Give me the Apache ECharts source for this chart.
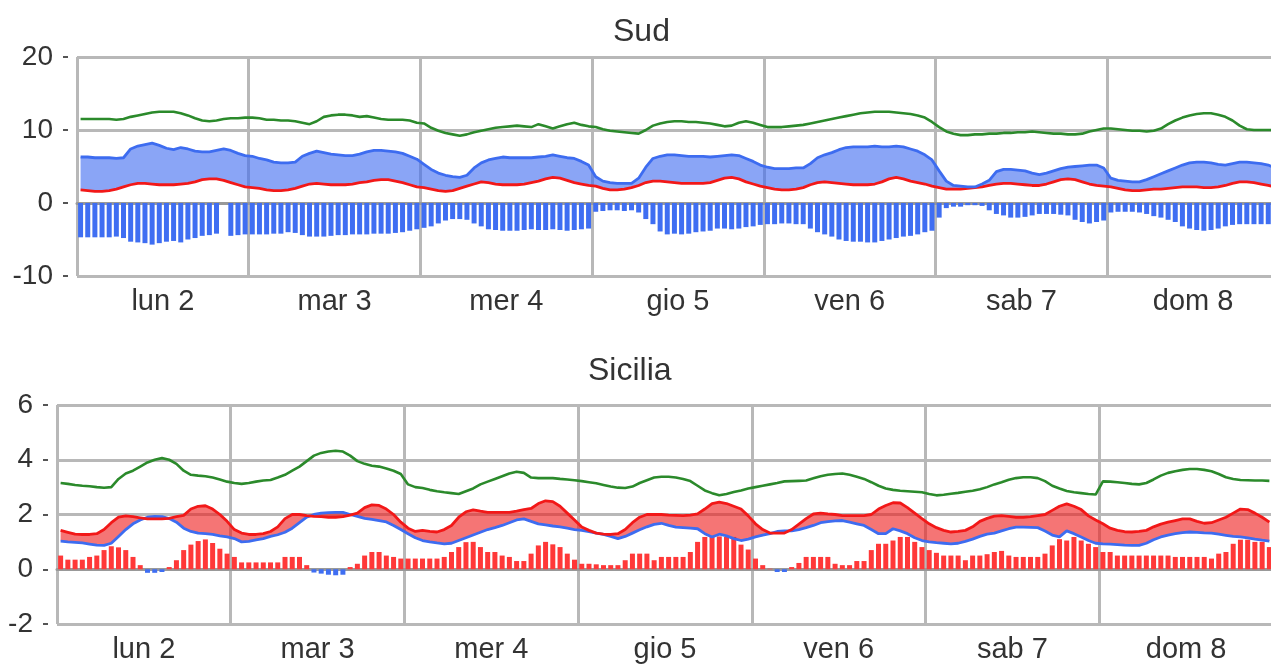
<!DOCTYPE html>
<html>
<head>
<meta charset="utf-8">
<script src="https://cdn.jsdelivr.net/npm/echarts@6/dist/echarts.min.js"></script>
<style>
html,body{margin:0;padding:0;background:#fff;}
#chart{width:1271px;height:666px;}
</style>
</head>
<body>
<div id="chart"></div>
<script>
// ---- Categories ----
const days = ['lun 2', 'mar 3', 'mer 4', 'gio 5', 'ven 6', 'sab 7', 'dom 8'];
const sudTicks = [-10, 0, 10, 20];
const sicTicks = [-2, 0, 2, 4, 6];
const titles = ['Sud', 'Sicilia'];

// ---- Sud (hourly, 7 days x 24) ----
const sudGreen = [
11.5,11.5,11.5,11.5,11.5,11.4,11.5,11.8,12.0,12.2,12.4,12.5,12.5,12.5,12.3,12.0,11.6,11.3,11.2,11.3,11.5,11.6,11.6,11.7,
11.7,11.6,11.4,11.4,11.3,11.3,11.2,11.0,10.8,11.2,11.8,12.0,12.1,12.1,12.0,11.8,11.9,11.7,11.5,11.4,11.4,11.4,11.3,11.0,
10.9,10.3,9.9,9.6,9.4,9.2,9.4,9.7,9.9,10.1,10.3,10.4,10.5,10.6,10.5,10.4,10.8,10.5,10.2,10.5,10.8,11.0,10.7,10.5,
10.4,10.1,9.9,9.8,9.7,9.6,9.5,10.0,10.6,10.9,11.1,11.2,11.2,11.1,11.1,11.0,10.9,10.7,10.5,10.6,11.0,11.2,11.0,10.7,
10.4,10.4,10.4,10.5,10.6,10.7,10.9,11.1,11.3,11.5,11.7,11.9,12.1,12.3,12.4,12.5,12.5,12.5,12.4,12.3,12.2,12.0,11.7,11.1,
10.4,9.8,9.5,9.3,9.3,9.4,9.4,9.5,9.5,9.6,9.6,9.7,9.7,9.8,9.7,9.6,9.5,9.5,9.4,9.4,9.5,9.8,10.0,10.2,
10.2,10.1,10.0,9.9,9.9,9.8,9.9,10.2,10.8,11.3,11.7,12.0,12.2,12.3,12.3,12.1,11.8,11.3,10.6,10.1,10.0,10.0,10.0,10.0
];
const sudBlue = [
6.3,6.3,6.2,6.2,6.2,6.1,6.2,7.4,7.8,8.0,8.2,7.9,7.5,7.3,7.6,7.4,7.1,7.0,7.0,7.2,7.4,7.2,6.8,6.5,
6.4,6.1,5.9,5.6,5.5,5.5,5.6,6.4,6.8,7.1,6.9,6.7,6.6,6.5,6.5,6.7,7.0,7.2,7.2,7.1,7.0,6.8,6.4,6.0,
5.3,4.6,4.1,3.8,3.6,3.5,3.8,4.8,5.5,5.9,6.1,6.3,6.2,6.2,6.2,6.2,6.3,6.4,6.6,6.4,6.2,6.1,5.7,5.2,
3.6,3.0,2.8,2.7,2.7,2.7,3.4,4.9,6.1,6.4,6.6,6.6,6.5,6.4,6.4,6.4,6.3,6.4,6.5,6.6,6.5,6.1,5.7,5.2,
4.9,4.7,4.7,4.7,4.8,4.8,5.4,6.2,6.6,6.9,7.3,7.6,7.7,7.7,7.7,7.8,7.7,7.7,7.8,7.7,7.4,7.1,6.6,5.9,
4.4,3.0,2.4,2.3,2.2,2.2,2.6,3.1,4.3,4.6,4.6,4.5,4.4,4.1,3.9,4.1,4.4,4.7,4.9,5.0,5.1,5.2,5.2,4.8,
3.4,3.1,3.0,2.9,2.9,3.2,3.6,4.0,4.4,4.8,5.2,5.5,5.6,5.6,5.5,5.3,5.2,5.4,5.6,5.6,5.5,5.4,5.2,4.8
];
const sudRed = [
1.8,1.7,1.6,1.6,1.7,1.9,2.2,2.5,2.7,2.7,2.6,2.5,2.5,2.5,2.6,2.7,2.9,3.2,3.3,3.3,3.1,2.8,2.5,2.2,
2.1,2.0,1.8,1.7,1.7,1.8,2.0,2.3,2.6,2.7,2.6,2.5,2.5,2.5,2.6,2.8,2.9,3.1,3.2,3.2,3.0,2.8,2.5,2.2,
2.1,1.9,1.7,1.6,1.7,2.0,2.3,2.6,2.9,2.8,2.6,2.5,2.5,2.5,2.6,2.8,3.0,3.3,3.5,3.4,3.1,2.8,2.6,2.4,
2.3,2.0,1.8,1.8,1.9,2.1,2.4,2.8,3.0,3.0,2.9,2.8,2.7,2.7,2.7,2.7,2.8,3.1,3.4,3.5,3.3,2.9,2.6,2.3,
2.1,1.9,1.8,1.8,1.9,2.1,2.5,2.8,2.9,2.8,2.7,2.6,2.5,2.5,2.5,2.6,2.9,3.3,3.5,3.3,3.0,2.8,2.6,2.3,
2.1,1.9,1.9,1.9,2.0,2.1,2.2,2.4,2.6,2.7,2.7,2.6,2.5,2.4,2.4,2.6,2.9,3.2,3.3,3.2,2.9,2.6,2.4,2.3,
2.2,2.0,1.8,1.7,1.7,1.8,1.9,1.9,2.0,2.1,2.2,2.2,2.2,2.1,2.1,2.2,2.4,2.7,2.9,2.9,2.8,2.6,2.4,2.2
];
const sudBars = [
-4.7,-4.7,-4.7,-4.7,-4.7,-4.6,-4.8,-5.3,-5.4,-5.5,-5.7,-5.5,-5.3,-5.2,-5.4,-5.0,-4.8,-4.5,-4.4,-4.2,null,-4.5,-4.4,-4.3,
-4.3,-4.3,-4.3,-4.2,-4.2,-4.0,-4.1,-4.4,-4.6,-4.6,-4.6,-4.5,-4.4,-4.4,-4.3,-4.3,-4.3,-4.2,-4.2,-4.2,-4.1,-4.0,-3.8,-3.6,
-3.4,-3.2,-2.8,-2.4,-2.2,-2.2,-2.3,-2.8,-3.2,-3.6,-3.7,-3.8,-3.8,-3.8,-3.7,-3.6,-3.7,-3.7,-3.6,-3.7,-3.8,-3.7,-3.6,-3.5,
-1.2,-1.1,-1.0,-1.0,-1.1,-1.0,-1.3,-2.2,-2.9,-3.9,-4.3,-4.2,-4.3,-4.2,-4.0,-3.9,-3.8,-3.5,-3.5,-3.6,-3.5,-3.3,-3.2,-3.0,
-2.9,-2.9,-2.8,-2.8,-2.9,-2.9,-3.5,-4.0,-4.3,-4.6,-5.0,-5.2,-5.3,-5.3,-5.4,-5.4,-5.2,-5.0,-4.8,-4.6,-4.5,-4.3,-4.0,-3.8,
-2.0,-0.7,-0.5,-0.5,-0.3,-0.3,-0.4,-1.0,-1.5,-1.7,-2.0,-2.0,-1.9,-1.7,-1.5,-1.5,-1.5,-1.6,-1.7,-2.3,-2.6,-2.8,-2.6,-2.4,
-1.3,-1.2,-1.2,-1.2,-1.3,-1.5,-1.8,-2.0,-2.3,-2.6,-3.2,-3.5,-3.7,-3.8,-3.7,-3.5,-3.2,-3.0,-2.9,-2.9,-2.9,-2.9,-2.9,-2.8
];

// ---- Sicilia (hourly, 7 days x 24) ----
const sicGreen = [
3.15,3.12,3.08,3.05,3.03,3.0,2.98,3.0,3.3,3.5,3.6,3.75,3.9,4.0,4.06,4.0,3.85,3.6,3.45,3.42,3.4,3.35,3.28,3.2,
3.15,3.12,3.15,3.2,3.24,3.26,3.35,3.45,3.6,3.75,3.95,4.15,4.25,4.3,4.33,4.3,4.15,3.95,3.85,3.78,3.75,3.68,3.6,3.48,
3.1,3.0,2.97,2.9,2.85,2.81,2.78,2.75,2.85,2.95,3.1,3.2,3.3,3.4,3.5,3.56,3.52,3.35,3.33,3.33,3.33,3.3,3.28,3.25,
3.22,3.18,3.14,3.08,3.02,2.98,2.97,3.02,3.15,3.25,3.35,3.38,3.38,3.35,3.3,3.22,3.05,2.88,2.78,2.7,2.75,2.82,2.88,2.95,
3.0,3.05,3.1,3.15,3.21,3.22,3.23,3.24,3.32,3.4,3.45,3.48,3.5,3.45,3.38,3.3,3.18,3.05,2.95,2.9,2.87,2.85,2.83,2.81,
2.75,2.7,2.72,2.76,2.79,2.83,2.87,2.92,3.0,3.1,3.18,3.27,3.33,3.36,3.36,3.33,3.22,3.05,2.95,2.86,2.81,2.78,2.75,2.73,
3.21,3.2,3.18,3.15,3.12,3.1,3.15,3.28,3.42,3.52,3.58,3.63,3.66,3.66,3.63,3.58,3.48,3.36,3.3,3.26,3.25,3.24,3.24,3.23
];
const sicBlue = [
1.03,1.0,0.98,0.96,0.92,0.88,0.87,0.95,1.2,1.45,1.66,1.8,1.9,1.93,1.92,1.85,1.72,1.5,1.38,1.32,1.3,1.27,1.22,1.18,
1.12,1.0,1.02,1.07,1.12,1.2,1.26,1.35,1.5,1.7,1.9,2.0,2.05,2.07,2.08,2.08,2.0,1.93,1.86,1.82,1.78,1.73,1.6,1.45,
1.3,1.15,1.05,1.0,0.96,0.93,0.95,1.05,1.15,1.25,1.35,1.45,1.52,1.6,1.7,1.8,1.84,1.75,1.66,1.62,1.58,1.55,1.5,1.45,
1.42,1.37,1.32,1.27,1.2,1.12,1.2,1.32,1.44,1.55,1.64,1.68,1.6,1.54,1.52,1.5,1.48,1.3,1.18,1.28,1.22,1.12,1.05,1.1,
1.18,1.25,1.3,1.38,1.4,1.4,1.45,1.52,1.6,1.7,1.74,1.77,1.78,1.72,1.66,1.6,1.45,1.3,1.3,1.48,1.4,1.3,1.15,1.05,
1.0,0.97,0.95,0.93,0.95,1.02,1.1,1.2,1.28,1.32,1.4,1.48,1.54,1.54,1.53,1.52,1.4,1.25,1.18,1.4,1.3,1.18,1.05,0.95,
0.93,0.92,0.9,0.88,0.87,0.87,0.95,1.08,1.18,1.25,1.3,1.34,1.36,1.35,1.33,1.32,1.28,1.24,1.2,1.18,1.15,1.1,1.06,1.03
];
const sicRed = [
1.42,1.35,1.28,1.27,1.27,1.3,1.45,1.7,1.9,1.95,1.92,1.88,1.84,1.84,1.84,1.86,1.92,1.97,2.2,2.3,2.32,2.2,2.0,1.75,
1.45,1.32,1.27,1.27,1.3,1.38,1.55,1.85,2.0,2.0,1.96,1.93,1.92,1.9,1.9,1.92,1.98,2.05,2.25,2.35,2.33,2.2,2.0,1.72,
1.5,1.38,1.42,1.38,1.36,1.45,1.6,1.9,2.1,2.17,2.12,2.08,2.08,2.08,2.08,2.12,2.18,2.22,2.4,2.5,2.47,2.3,2.05,1.8,
1.54,1.42,1.32,1.28,1.27,1.3,1.45,1.7,1.9,2.0,2.0,2.0,1.98,1.97,1.96,1.98,2.02,2.2,2.4,2.45,2.4,2.3,2.2,1.95,
1.66,1.45,1.32,1.32,1.32,1.45,1.65,1.85,2.02,2.05,2.02,2.0,1.96,1.96,1.96,1.96,2.0,2.2,2.33,2.43,2.42,2.25,2.05,1.85,
1.66,1.52,1.42,1.36,1.38,1.42,1.55,1.75,1.86,1.94,1.96,1.93,1.9,1.9,1.92,1.96,2.0,2.15,2.3,2.39,2.3,2.18,1.95,1.8,
1.66,1.5,1.42,1.37,1.36,1.38,1.42,1.55,1.65,1.72,1.78,1.84,1.84,1.75,1.68,1.7,1.8,1.9,2.05,2.2,2.18,2.05,1.9,1.72
];
const sicBars = [
0.5,0.35,0.35,0.35,0.45,0.5,0.7,0.84,0.8,0.7,0.45,0.15,-0.13,-0.13,-0.1,0.08,0.33,0.7,0.9,1.03,1.09,0.96,0.75,0.57,
0.45,0.25,0.25,0.25,0.25,0.25,0.25,0.45,0.45,0.45,0.15,-0.12,-0.16,-0.2,-0.22,-0.2,0.08,0.2,0.5,0.63,0.63,0.5,0.45,0.39,
0.39,0.39,0.39,0.39,0.39,0.45,0.63,0.81,0.99,1.0,0.81,0.63,0.63,0.5,0.45,0.3,0.3,0.57,0.87,1.0,0.91,0.81,0.57,0.35,
0.2,0.2,0.18,0.15,0.15,0.15,0.33,0.57,0.57,0.57,0.33,0.45,0.45,0.45,0.45,0.63,1.0,1.18,1.18,1.2,1.18,1.18,0.9,0.72,
0.39,0.15,0.02,-0.1,-0.1,0.08,0.23,0.45,0.45,0.45,0.45,0.2,0.15,0.15,0.3,0.3,0.7,0.93,0.93,1.05,1.18,1.18,1.0,0.81,
0.7,0.6,0.5,0.5,0.5,0.33,0.5,0.5,0.55,0.63,0.67,0.5,0.45,0.45,0.45,0.45,0.57,0.87,1.1,1.05,1.18,1.05,0.93,0.81,
0.63,0.63,0.5,0.5,0.5,0.5,0.5,0.5,0.5,0.5,0.45,0.45,0.45,0.45,0.45,0.39,0.57,0.63,0.93,1.08,1.08,1.0,1.0,0.81
];

// ---- Styles ----
const FONT = '"Liberation Sans", Arial, sans-serif';
const GREEN = '#2b8a2b';
const BLUE = '#3d6cf0';
const RED = '#f21818';
const BAR_RED = '#ff3838';
const BAR_BLUE = '#3f6ef2';
const BLUE_FILL = 'rgba(60,105,240,0.6)';
const RED_FILL = 'rgba(238,25,25,0.6)';
const GRID_C = '#b8b8b8';
const TEXT_C = '#333';

// hourly category labels built from the day names
const hours = [];
days.forEach(d => { for (let h = 0; h < 24; h++) hours.push(d + ' ' + h + ':00'); });

function diff(a, b) { return a.map((v, i) => +(v - b[i]).toFixed(3)); }

function panel(gi, top, left, right, ticks) {
  const min = ticks[0], max = ticks[ticks.length - 1], interval = ticks[1] - ticks[0];
  return {
    grid: { left: left, right: right, top: top, height: 219, outerBoundsMode: 'none', containLabel: false },
    xAxes: [
      { type: 'category', gridIndex: gi, data: days, boundaryGap: true, position: 'bottom',
        axisLine: { show: true, lineStyle: { color: '#999', width: 3 } },
        axisTick: { show: false },
        axisLabel: { fontSize: 29, color: TEXT_C, fontFamily: FONT, margin: 11, interval: 0 },
        splitLine: { show: true, showMinLine: true, showMaxLine: true, interval: 0, lineStyle: { color: GRID_C, width: 3 } } },
      { type: 'category', gridIndex: gi, data: hours, boundaryGap: true, position: 'top',
        axisLine: { show: false }, axisTick: { show: false }, axisLabel: { show: false },
        splitLine: { show: false } }
    ],
    yAxes: [
      { type: 'value', gridIndex: gi, min: min, max: max, interval: interval, position: 'left',
        axisLine: { show: false }, axisTick: { show: false },
        axisLabel: { fontSize: 28, color: TEXT_C, fontFamily: FONT, margin: 24 },
        splitLine: { show: true, showMinLine: true, showMaxLine: true, lineStyle: { color: GRID_C, width: 3 } } },
      { type: 'value', gridIndex: gi, min: min, max: max, interval: interval, position: 'left', offset: 9,
        axisLine: { show: false },
        axisTick: { show: true, length: 5, lineStyle: { color: '#555', width: 2 } },
        axisLabel: { show: false }, splitLine: { show: false } }
    ]
  };
}

const p0 = panel(0, 57, 77, -8, sudTicks);
const p1 = panel(1, 405, 57, -2, sicTicks);

function lineS(xi, yi, data, color, width, z) {
  return { type: 'line', xAxisIndex: xi, yAxisIndex: yi, data: data, showSymbol: false, symbol: 'none',
    lineStyle: { color: color, width: width }, itemStyle: { color: color }, z: z, silent: true, animation: false };
}
function bandBase(xi, yi, data, stack) {
  return { type: 'line', xAxisIndex: xi, yAxisIndex: yi, data: data, stack: stack, stackStrategy: 'all',
    showSymbol: false, symbol: 'none', lineStyle: { width: 0, opacity: 0 }, z: 3, animation: false, silent: true };
}
function bandFill(xi, yi, data, stack, fill) {
  return { type: 'line', xAxisIndex: xi, yAxisIndex: yi, data: data, stack: stack, stackStrategy: 'all',
    showSymbol: false, symbol: 'none', lineStyle: { width: 0, opacity: 0 },
    areaStyle: { color: fill, opacity: 1 }, z: 3, animation: false, silent: true };
}

const series = [
  // Sud
  { type: 'bar', xAxisIndex: 1, yAxisIndex: 0, data: sudBars, barWidth: 5,
    itemStyle: { color: BAR_BLUE }, z: 2, animation: false, silent: true },
  bandBase(1, 0, sudRed, 'sudBand'),
  bandFill(1, 0, diff(sudBlue, sudRed), 'sudBand', BLUE_FILL),
  lineS(1, 0, sudGreen, GREEN, 2.6, 5),
  lineS(1, 0, sudRed, RED, 2.8, 5),
  lineS(1, 0, sudBlue, BLUE, 2.8, 5),

  // Sicilia
  { type: 'bar', xAxisIndex: 3, yAxisIndex: 2, data: sicBars, barWidth: 5,
    itemStyle: { color: function (p) { return p.value >= 0 ? BAR_RED : BAR_BLUE; } }, z: 2, animation: false, silent: true },
  bandBase(3, 2, sicBlue, 'sicBand'),
  bandFill(3, 2, diff(sicRed, sicBlue), 'sicBand', RED_FILL),
  lineS(3, 2, sicGreen, GREEN, 2.6, 5),
  lineS(3, 2, sicBlue, BLUE, 2.8, 5),
  lineS(3, 2, sicRed, RED, 2.8, 5)
];

const chart = echarts.init(document.getElementById('chart'), null, { renderer: 'canvas' });
chart.setOption({
  animation: false,
  backgroundColor: '#fff',
  title: [
    { text: titles[0], left: 608, top: 11, textStyle: { fontSize: 32, fontWeight: 'normal', color: TEXT_C, fontFamily: FONT } },
    { text: titles[1], left: 583, top: 350, textStyle: { fontSize: 32, fontWeight: 'normal', color: TEXT_C, fontFamily: FONT } }
  ],
  grid: [p0.grid, p1.grid],
  xAxis: p0.xAxes.concat(p1.xAxes),
  yAxis: p0.yAxes.concat(p1.yAxes),
  series: series
});
</script>
</body>
</html>
